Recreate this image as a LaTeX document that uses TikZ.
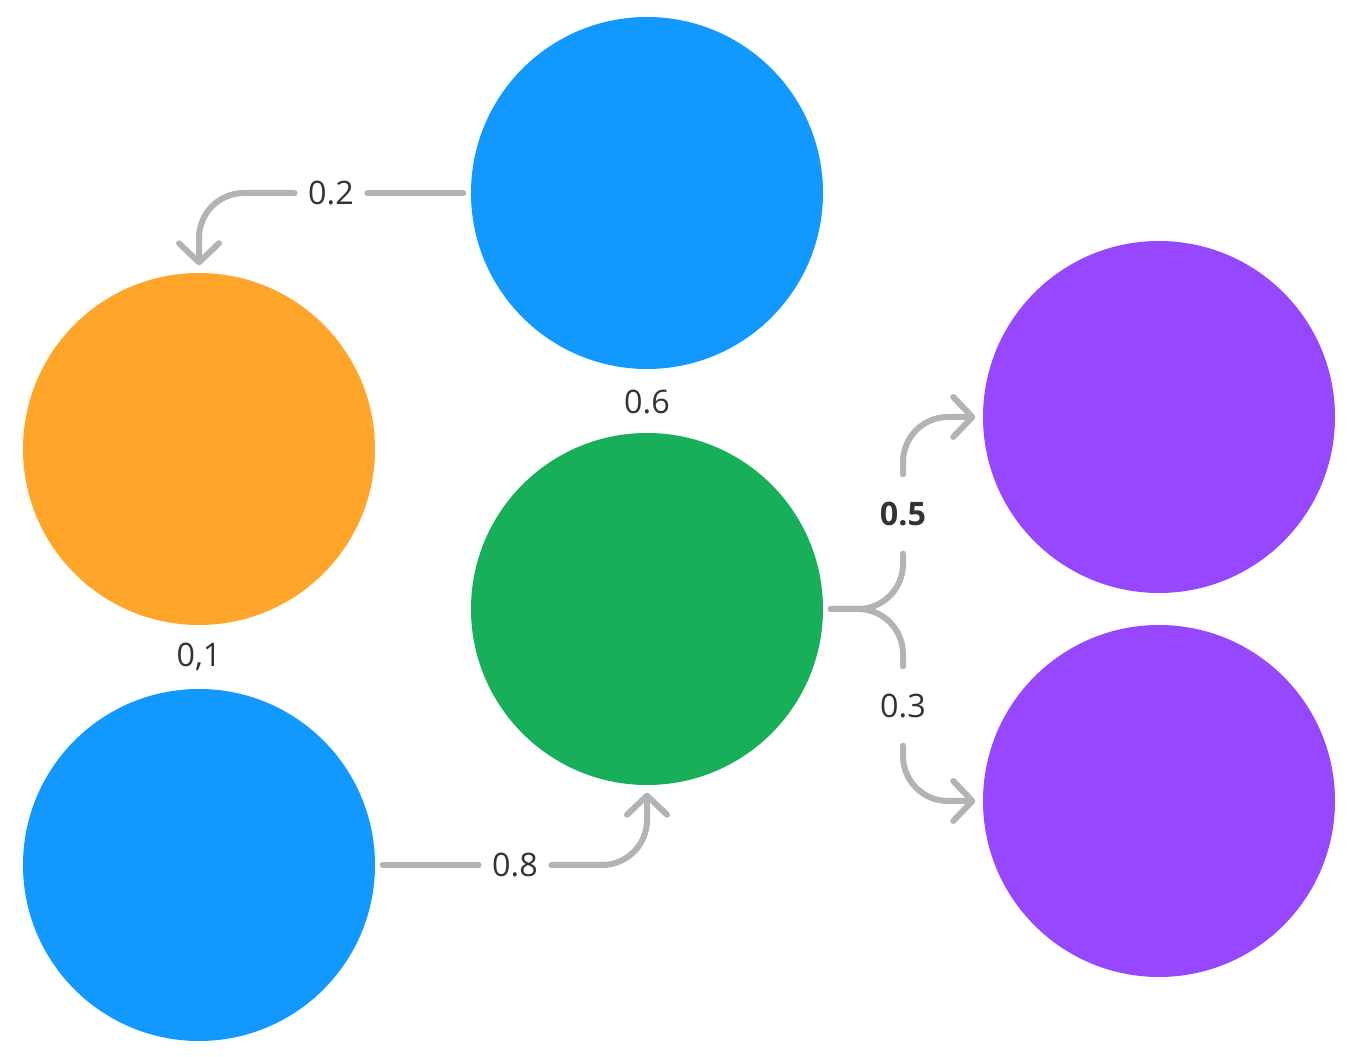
\documentclass[tikz,border=0pt]{standalone}
\usepackage{fontspec}
\setmainfont{Open Sans}
\usetikzlibrary{arrows.meta}
\definecolor{skyblue}{HTML}{1199FF}
\definecolor{amber}{HTML}{FFA52A}
\definecolor{leaf}{HTML}{18AF5B}
\definecolor{violet}{HTML}{9747FF}
\definecolor{wire}{HTML}{B3B3B3}
\definecolor{ink}{HTML}{333333}
\tikzset{
  ball/.style={circle, inner sep=0pt, minimum size=3.52cm},
  weight/.style={text=ink, font=\fontsize{9.2}{11}\selectfont, inner sep=0pt},
  hgap/.style={weight, inner xsep=0.13cm},
  vgap/.style={weight, inner ysep=0.27cm},
  link/.style={draw=wire, line width=0.06cm, line cap=round, rounded corners=0.45cm},
  flow/.style={link, -{Straight Barb[length=0.19cm, width=0.4cm, round]}, shorten >=0.07cm}
}
\begin{document}
\begin{tikzpicture}
			%%%%% START %%%%%
			\useasboundingbox (0, 0) rectangle (13.59, -10.57);
			
			\node[ball, fill=skyblue] (topblue) at (6.47, -1.93) {};
			\node[ball, fill=amber] (orange) at (1.99, -4.49) {};
			\node[ball, fill=skyblue] (lowblue) at (1.99, -8.65) {};
			\node[ball, fill=leaf] (green) at (6.47, -6.09) {};
			\node[ball, fill=violet] (upviolet) at (11.59, -4.17) {};
			\node[ball, fill=violet] (lowviolet) at (11.59, -8.01) {};
			
			\node[hgap] (w02) at (3.31, -1.93) {0.2};
			\node[weight] (w06) at (6.47, -4.02) {0.6};
			\node[weight] (w01) at (1.99, -6.57) {0,1};
			\node[hgap] (w08) at (5.15, -8.65) {0.8};
			\node[vgap, font=\fontsize{9.2}{11}\selectfont\bfseries] (w05) at (9.03, -5.14) {0.5};
			\node[vgap] (w03) at (9.03, -7.06) {0.3};
			
			\draw[link, shorten <=0.07cm] (topblue.west) -- (w02.east);
			\draw[flow] (w02.west) -| (orange.north);
			
			\draw[link, shorten <=0.07cm] (lowblue.east) -- (w08.west);
			\draw[flow] (w08.east) -| (green.south);
			
			\draw[link, shorten <=0.07cm] (green.east) -| (w05.south);
			\draw[link, shorten <=0.07cm] (green.east) -| (w03.north);
			\draw[flow] (w05.north) |- (upviolet.west);
			\draw[flow] (w03.south) |- (lowviolet.west);
			
			%%%%% END %%%%%
\end{tikzpicture}
\end{document}
